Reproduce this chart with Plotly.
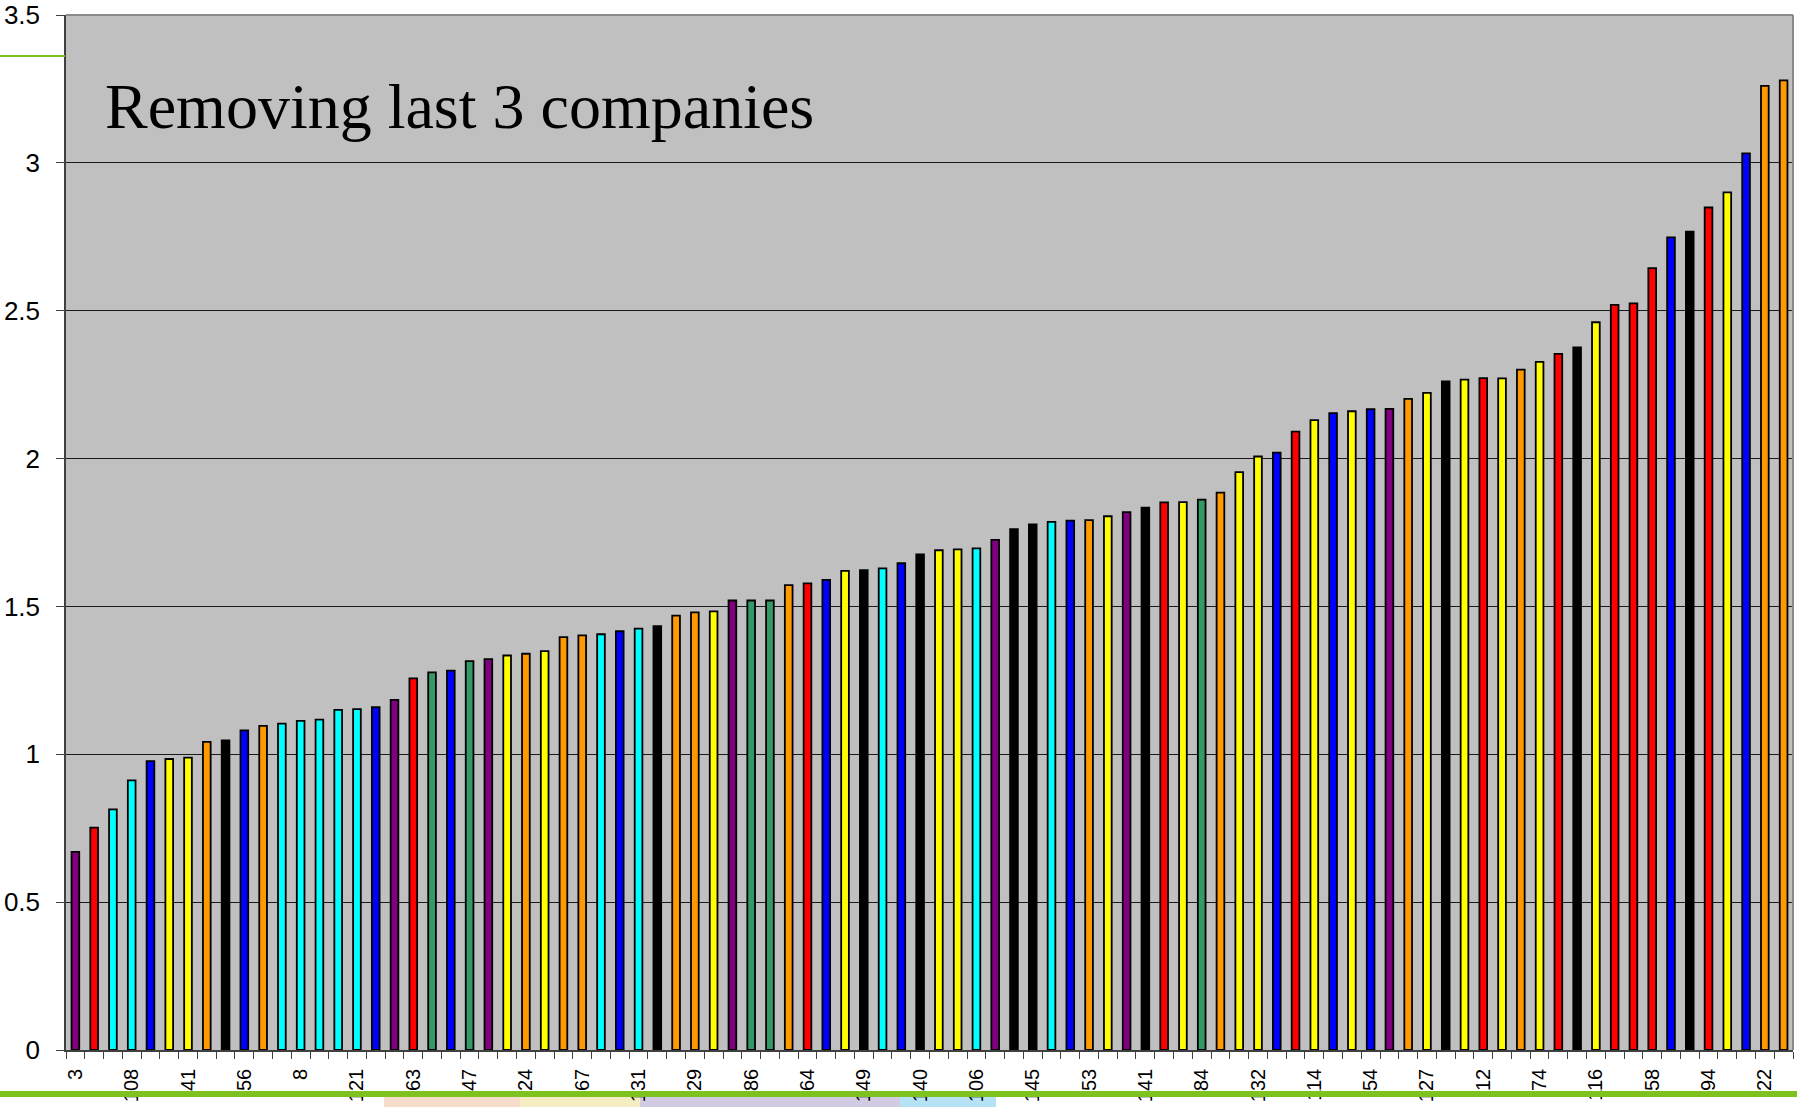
import plotly.graph_objects as go

# ---- data ----
values = [
    0.670, 0.752, 0.814, 0.912, 0.977, 0.984, 0.989, 1.042, 1.047, 1.081,
    1.096, 1.104, 1.113, 1.117, 1.150, 1.153, 1.159, 1.184, 1.257, 1.277,
    1.283, 1.315, 1.322, 1.334, 1.340, 1.349, 1.396, 1.402, 1.406, 1.416,
    1.425, 1.433, 1.469, 1.480, 1.483, 1.520, 1.520, 1.520, 1.572, 1.578,
    1.590, 1.620, 1.623, 1.629, 1.646, 1.676, 1.690, 1.693, 1.696, 1.725,
    1.761, 1.777, 1.786, 1.790, 1.792, 1.805, 1.819, 1.834, 1.852, 1.853,
    1.861, 1.885, 1.954, 2.007, 2.020, 2.091, 2.130, 2.154, 2.160, 2.167,
    2.168, 2.202, 2.222, 2.261, 2.267, 2.272, 2.271, 2.301, 2.327, 2.354,
    2.376, 2.461, 2.520, 2.525, 2.644, 2.748, 2.767, 2.849, 2.900, 3.032,
    3.260, 3.279,
]

groups = [
    "purple", "red", "cyan", "cyan", "blue", "yellow", "yellow", "orange", "black", "blue",
    "orange", "cyan", "cyan", "cyan", "cyan", "cyan", "blue", "purple", "red", "green",
    "blue", "green", "purple", "yellow", "orange", "yellow", "orange", "orange", "cyan", "blue",
    "cyan", "black", "orange", "orange", "yellow", "purple", "green", "green", "orange", "red",
    "blue", "yellow", "black", "cyan", "blue", "black", "yellow", "yellow", "cyan", "purple",
    "black", "black", "cyan", "blue", "orange", "yellow", "purple", "black", "red", "yellow",
    "green", "orange", "yellow", "yellow", "blue", "red", "yellow", "blue", "yellow", "blue",
    "purple", "orange", "yellow", "black", "yellow", "red", "yellow", "orange", "yellow", "red",
    "black", "yellow", "red", "red", "red", "blue", "black", "red", "yellow", "blue",
    "orange", "orange",
]

tick_labels = [
    "3", "108", "41", "56", "8", "121", "63", "47", "24", "67", "131",
    "29", "86", "64", "149", "140", "106", "145", "53", "141", "84",
    "132", "114", "54", "127", "12", "74", "116", "58", "94", "22",
]

palette = {
    "purple": "#800080", "red": "#FF0000", "cyan": "#00FFFF", "blue": "#0000FF",
    "yellow": "#FFFF00", "orange": "#FF9900", "black": "#000000", "green": "#339966",
}

n = len(values)
x_pos = list(range(n))
tick_pos = list(range(0, n, 3))

fig = go.Figure()
fig.add_trace(go.Bar(
    x=x_pos, y=values,
    width=0.41,
    marker=dict(color=[palette[g] for g in groups], line=dict(color="#000000", width=1.8)),
    showlegend=False,
    hoverinfo="x+y",
))

W, H = 1797, 1107
ml, mr, mt, mb = 66, 4, 15, 57
pw, ph = W - ml - mr, H - mt - mb

def px_x(px):
    return (px - ml) / pw

def px_y(py):
    return (H - mb - py) / ph

fig.update_layout(
    width=W, height=H,
    margin=dict(l=ml, r=mr, t=mt, b=mb, pad=0, autoexpand=False),
    paper_bgcolor="#FFFFFF",
    plot_bgcolor="#C0C0C0",
    font=dict(family="Liberation Sans, Arial", color="#000000"),
    xaxis=dict(
        range=[-0.5, n - 0.5],
        automargin=False,
        tickmode="array", tickvals=tick_pos, ticktext=tick_labels,
        tickangle=-90,
        ticks="outside", ticklen=7, tickcolor="rgba(0,0,0,0)",
        ticklabelstandoff=2,
        tickfont=dict(size=20, family="Liberation Sans, Arial"),
        minor=dict(tick0=-0.5, dtick=1, ticks="outside", ticklen=7, tickcolor="#404040", tickwidth=1),
        showline=True, linecolor="#404040", linewidth=1.5,
        showgrid=False, zeroline=False, fixedrange=True,
    ),
    yaxis=dict(
        range=[0, 3.5],
        automargin=False,
        tickmode="array", tickvals=[0, 0.5, 1, 1.5, 2, 2.5, 3, 3.5],
        ticktext=["0", "0.5", "1", "1.5", "2", "2.5", "3", "3.5"],
        ticks="outside", ticklen=8, tickcolor="#404040", tickwidth=1,
        ticklabelstandoff=11,
        tickfont=dict(size=26, family="Liberation Sans, Arial"),
        showline=True, linecolor="#404040", linewidth=1.5,
        showgrid=True, gridcolor="#1a1a1a", gridwidth=1,
        zeroline=False, fixedrange=True,
    ),
    bargap=0.59,
)

shapes = [
    # top and right frame of plot area
    dict(type="line", xref="paper", yref="paper", x0=0, x1=1, y0=1, y1=1,
         line=dict(color="#8a8a8a", width=2), layer="above"),
    dict(type="line", xref="paper", yref="paper", x0=1, x1=1, y0=0, y1=1,
         line=dict(color="#8a8a8a", width=2), layer="above"),
    # slide decoration: green lines
    dict(type="line", xref="paper", yref="paper", x0=px_x(0), x1=px_x(W), y0=px_y(1094), y1=px_y(1094),
         line=dict(color="#7DC21E", width=6), layer="above"),
    dict(type="line", xref="paper", yref="paper", x0=px_x(0), x1=px_x(ml - 1), y0=px_y(56), y1=px_y(56),
         line=dict(color="#7DC21E", width=2), layer="above"),
]
# pale picture strip at the bottom of the slide
strip = [(384, 520, "#F6DCCB"), (520, 640, "#F4EDC2"), (640, 900, "#D2CCE2"), (900, 996, "#B5E2F4")]
for x0, x1, c in strip:
    shapes.append(dict(type="rect", xref="paper", yref="paper",
                       x0=px_x(x0), x1=px_x(x1), y0=px_y(H), y1=px_y(1097),
                       fillcolor=c, line=dict(width=0), layer="below"))
fig.update_layout(shapes=shapes)

fig.add_annotation(
    xref="paper", yref="paper", x=px_x(103), y=px_y(106),
    xanchor="left", yanchor="middle", showarrow=False,
    text="Removing last 3 companies",
    font=dict(family="Liberation Serif, Times New Roman", size=64, color="#000000"),
)

fig.write_html("out.html", config={"displayModeBar": False},
               post_script="document.body.style.margin='0';document.body.style.overflow='hidden';")
